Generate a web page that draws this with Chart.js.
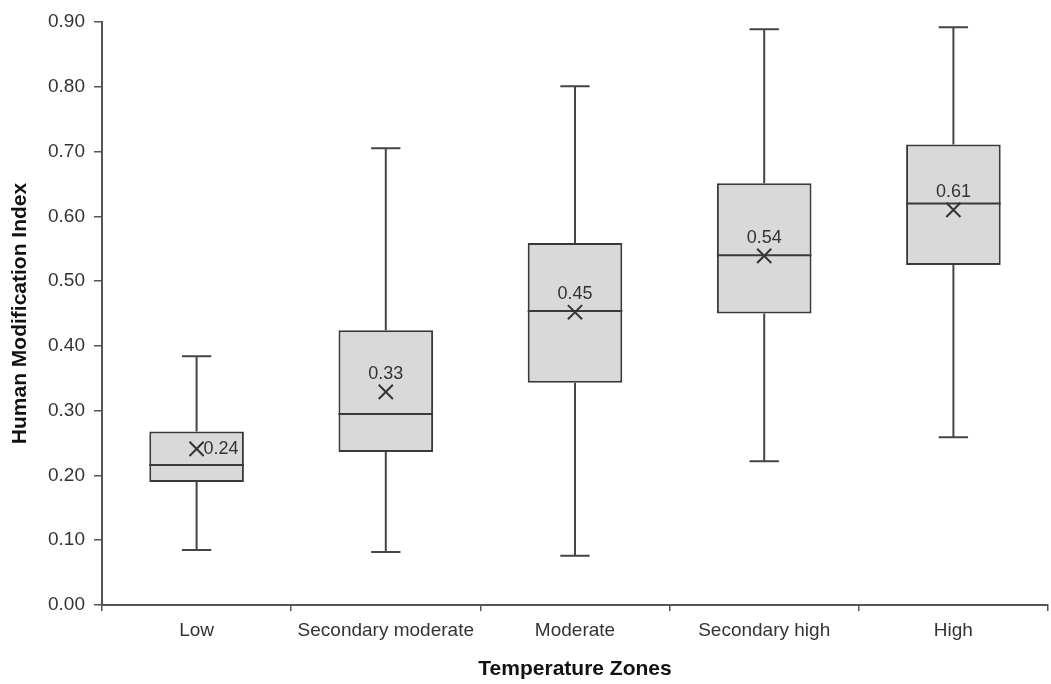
<!DOCTYPE html>
<html>
<head>
<meta charset="utf-8">
<script src="https://cdn.jsdelivr.net/npm/chart.js@4/dist/chart.umd.min.js"></script>
<style>
  body { margin: 0; overflow: hidden; background: #fff; }
  #wrap { position: relative; width: 1060px; height: 684px; }
</style>
</head>
<body>
<div id="wrap"><canvas id="chartContainer"></canvas></div>
<script>
// box plot values
const categories = ['Low', 'Secondary moderate', 'Moderate', 'Secondary high', 'High'];
const whiskerMin = [0.085, 0.082, 0.076, 0.222, 0.259];
const q1 = [0.190, 0.236, 0.343, 0.450, 0.525];
const median = [0.216, 0.295, 0.454, 0.540, 0.620];
const q3 = [0.268, 0.424, 0.559, 0.651, 0.711];
const whiskerMax = [0.384, 0.705, 0.801, 0.889, 0.892];
const mean = [0.241, 0.329, 0.452, 0.539, 0.610];
const meanLabels = ['0.24', '0.33', '0.45', '0.54', '0.61'];

Chart.defaults.font.family = "'Liberation Sans', Arial, sans-serif";
Chart.defaults.color = '#333';

// whiskers, medians and mean labels drawn through the scales
const boxExtras = {
  id: 'boxExtras',
  beforeDatasetsDraw(chart) {
    const { ctx, scales: { y } } = chart;
    const bars = chart.getDatasetMeta(0).data;
    ctx.save();
    ctx.strokeStyle = '#444';
    ctx.lineWidth = 2;
    bars.forEach((bar, i) => {
      const cx = bar.x;
      const half = bar.width * 0.155;
      const yMax = y.getPixelForValue(whiskerMax[i]);
      const yMin = y.getPixelForValue(whiskerMin[i]);
      ctx.beginPath();
      ctx.moveTo(cx, y.getPixelForValue(q3[i]));
      ctx.lineTo(cx, yMax);
      ctx.moveTo(cx - half, yMax);
      ctx.lineTo(cx + half, yMax);
      ctx.moveTo(cx, y.getPixelForValue(q1[i]));
      ctx.lineTo(cx, yMin);
      ctx.moveTo(cx - half, yMin);
      ctx.lineTo(cx + half, yMin);
      ctx.stroke();
    });
    ctx.restore();
  },
  afterDatasetDraw(chart, args) {
    if (args.index !== 0) return;
    const { ctx, scales: { y } } = chart;
    ctx.save();
    ctx.strokeStyle = '#3a3a3a';
    ctx.lineWidth = 2;
    args.meta.data.forEach((bar, i) => {
      const ym = y.getPixelForValue(median[i]);
      ctx.beginPath();
      ctx.moveTo(bar.x - bar.width / 2, ym);
      ctx.lineTo(bar.x + bar.width / 2, ym);
      ctx.stroke();
    });
    ctx.restore();
  },
  afterDatasetsDraw(chart) {
    const { ctx, scales: { x, y } } = chart;
    ctx.save();
    ctx.fillStyle = '#333';
    ctx.font = "18px 'Liberation Sans', Arial, sans-serif";
    ctx.textBaseline = 'middle';
    mean.forEach((v, i) => {
      const px = x.getPixelForValue(i);
      const py = y.getPixelForValue(v);
      if (i === 0) {
        ctx.textAlign = 'left';
        ctx.fillText(meanLabels[i], px + 7, py);
      } else {
        ctx.textAlign = 'center';
        ctx.fillText(meanLabels[i], px, py - 18);
      }
    });
    ctx.restore();
  }
};

new Chart(document.getElementById('chartContainer'), {
  type: 'bar',
  data: {
    labels: categories,
    datasets: [{
      label: 'IQR',
      data: q1.map((v, i) => [v, q3[i]]),
      backgroundColor: '#d9d9d9',
      borderColor: '#3a3a3a',
      borderWidth: 2,
      borderSkipped: false,
      barPercentage: 0.5,
      categoryPercentage: 1,
      order: 2
    }, {
      type: 'line',
      label: 'Mean',
      data: mean,
      showLine: false,
      pointStyle: 'crossRot',
      pointRadius: 10,
      pointBorderWidth: 2,
      pointBorderColor: '#333',
      pointBackgroundColor: '#333',
      order: 1
    }]
  },
  options: {
    responsive: true,
    maintainAspectRatio: false,
    animation: false,
    layout: { padding: { top: 22, right: 2, bottom: 0, left: 0 } },
    plugins: {
      legend: { display: false },
      tooltip: { enabled: false }
    },
    scales: {
      x: {
        offset: true,
        grid: { offset: true, drawOnChartArea: false, drawTicks: true, tickLength: 6, color: '#555', lineWidth: 1.5 },
        border: { color: '#555', width: 2 },
        ticks: { font: { size: 19 }, padding: 8, color: '#333', maxRotation: 0 },
        title: { display: true, text: 'Temperature Zones', font: { size: 21, weight: 'bold' }, color: '#111', padding: { top: 0, bottom: 2 } },
        afterFit: (scale) => { scale.height = 79; }
      },
      y: {
        min: 0,
        max: 0.9,
        grid: { drawOnChartArea: false, drawTicks: true, tickLength: 8, color: '#555', lineWidth: 1.5 },
        border: { color: '#555', width: 2 },
        ticks: { stepSize: 0.1, font: { size: 19 }, padding: 9, color: '#333', callback: (v) => v.toFixed(2) },
        title: { display: true, text: 'Human Modification Index', font: { size: 21, weight: 'bold' }, color: '#111', padding: { top: 8, bottom: 0 } },
        afterFit: (scale) => { scale.width = 102; }
      }
    }
  },
  plugins: [boxExtras]
});
</script>
</body>
</html>
